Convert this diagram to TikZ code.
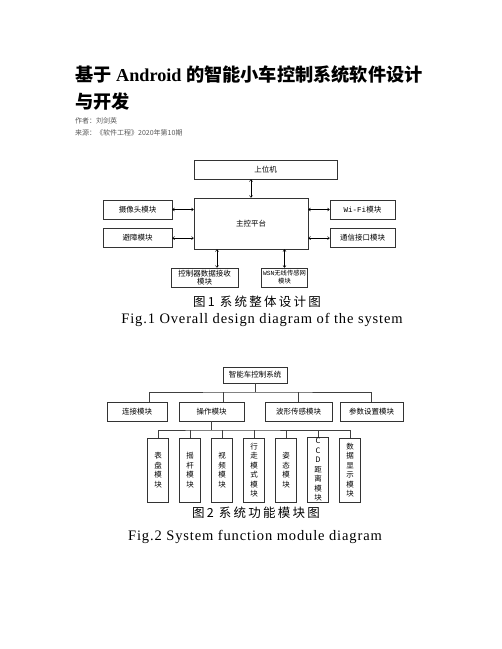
\documentclass[tikz,border=0pt]{standalone}
\usepackage{fontspec}
\setmainfont{Liberation Serif}
\newfontfamily\cjk{Noto Sans CJK SC}
\newfontfamily\cjkcap{Noto Sans CJK SC}[LetterSpace=18]
\newfontfamily\encap{Liberation Serif}[LetterSpace=6]
\newfontfamily\monof{Liberation Mono}
\usetikzlibrary{arrows.meta,positioning}

\begin{document}
\begin{tikzpicture}[x=1pt, y=-1pt,
      box/.style={draw=black!80, line width=0.6pt, minimum height=19pt,
                  inner sep=1pt, align=center,
                  font=\cjk\fontsize{7.5}{9}\selectfont},
      vbox/.style={box, minimum width=21pt, minimum height=64pt,
                   text width=9pt, font=\cjk\fontsize{7.5}{9.5}\selectfont},
      dbl/.style={{To[length=2.5pt,width=3.5pt]}-{To[length=2.5pt,width=3.5pt]},
                  line width=0.5pt},
      tree/.style={draw=black!75, line width=0.6pt},
      capzh/.style={font=\cjkcap\fontsize{12.5}{14}\selectfont},
      capen/.style={font=\encap\fontsize{14.5}{16}\selectfont}]
    \useasboundingbox[fill=white] (0,0) rectangle (502,649);

    % heading
    \node[anchor=west, inner sep=0pt, font=\bfseries\fontsize{18.2}{20}\selectfont]
      (title) at (75,75) {{\cjk 基于} Android {\cjk 的智能小车控制系统软件设计}};
    \node[anchor=west, inner sep=0pt, font=\cjk\bfseries\fontsize{18.2}{20}\selectfont]
      (title2) at (75,102) {与开发};
    \node[anchor=west, inner sep=0pt, text=black!65, font=\cjk\fontsize{7}{9}\selectfont]
      (author) at (75,121) {作者：刘剑英};
    \node[anchor=west, inner sep=0pt, text=black!65, font=\cjk\fontsize{7}{9}\selectfont]
      (source) at (75,133) {来源：《软件工程》2020年第10期};

    % Fig.1
    \node[box, minimum width=114pt, minimum height=51pt] (zk) at (251,223.5) {主控平台};
    \node[box, minimum width=143pt] (swj) at (265.5,169.5) {上位机};
    \node[box, minimum width=69pt] (sxt) at (137.5,209.5) {摄像头模块};
    \node[box, minimum width=69pt, below=9pt of sxt] (bz) {避障模块};
    \node[box, minimum width=65pt] (wifi) at (362.5,209.5) {{\monof Wi-Fi}模块};
    \node[box, minimum width=65pt, below=9pt of wifi] (txjk) {通信接口模块};
    \node[box, minimum width=67pt, font=\cjk\fontsize{7.5}{8}\selectfont]
      (kzq) at (204.5,277.5) {控制器数据接收\\模块};
    \node[box, minimum width=46pt, font=\cjk\fontsize{6.3}{8}\selectfont]
      (wsn) at (284.5,277.5) {{\monof WSN}无线传感网\\模块};
    \draw[dbl] (swj.south -| zk.north) -- (zk.north);
    \draw[dbl] (sxt.east) -- (sxt.east -| zk.west);
    \draw[dbl] (bz.east) -- (bz.east -| zk.west);
    \draw[dbl] (wifi.west) -- (wifi.west -| zk.east);
    \draw[dbl] (txjk.west) -- (txjk.west -| zk.east);
    \draw[dbl] ([xshift=12.5pt]kzq.north) -- ([xshift=12.5pt]kzq.north |- zk.south);
    \draw[dbl] (wsn.north) -- (wsn.north |- zk.south);
    \node[capzh] (cap1) at (257,302) {图1 系统整体设计图};
    \node[capen] (cap1en) at (262,320) {Fig.1 Overall design diagram of the system};

    % Fig.2
    \node[box, minimum width=64pt, minimum height=16pt] (root) at (255,375) {智能车控制系统};
    \node[box, minimum width=60pt] (conn) at (137,411.5) {连接模块};
    \node[box, minimum width=65pt] (op) at (211.5,411.5) {操作模块};
    \node[box, minimum width=67pt] (wave) at (298.5,411.5) {波形传感模块};
    \node[box, minimum width=63pt] (param) at (371.5,411.5) {参数设置模块};
    \coordinate (bus) at (255,392);
    \coordinate (sub) at (211.5,430);
    \draw[tree] (root.south) -- (bus);
    \draw[tree] ([xshift=12pt]conn.north) |- (bus) -| (param.north);
    \draw[tree] ([xshift=11.5pt]op.north) -- ([xshift=11.5pt]op.north |- bus);
    \draw[tree] (wave.north) -- (wave.north |- bus);
    \foreach \t [count=\i] in {表\\盘\\模\\块, 摇\\杆\\模\\块, 视\\频\\模\\块,
        行\\走\\模\\式\\模\\块, 姿\\态\\模\\块, C\\C\\D\\距\\离\\模\\块,
        数\\据\\显\\示\\模\\块}
      \node[vbox] (v\i) at ({158+32*(\i-1)},470) {\t};
    \draw[tree] (op.south) -- (sub);
    \draw[tree] (v1.north) |- (sub) -| (v7.north);
    \foreach \i in {2,...,6}
      \draw[tree] (v\i.north) -- (v\i.north |- sub);
    \node[capzh] (cap2) at (256,513) {图2 系统功能模块图};
    \node[capen] (cap2en) at (255,537) {Fig.2 System function module diagram};
  \end{tikzpicture}
\end{document}
